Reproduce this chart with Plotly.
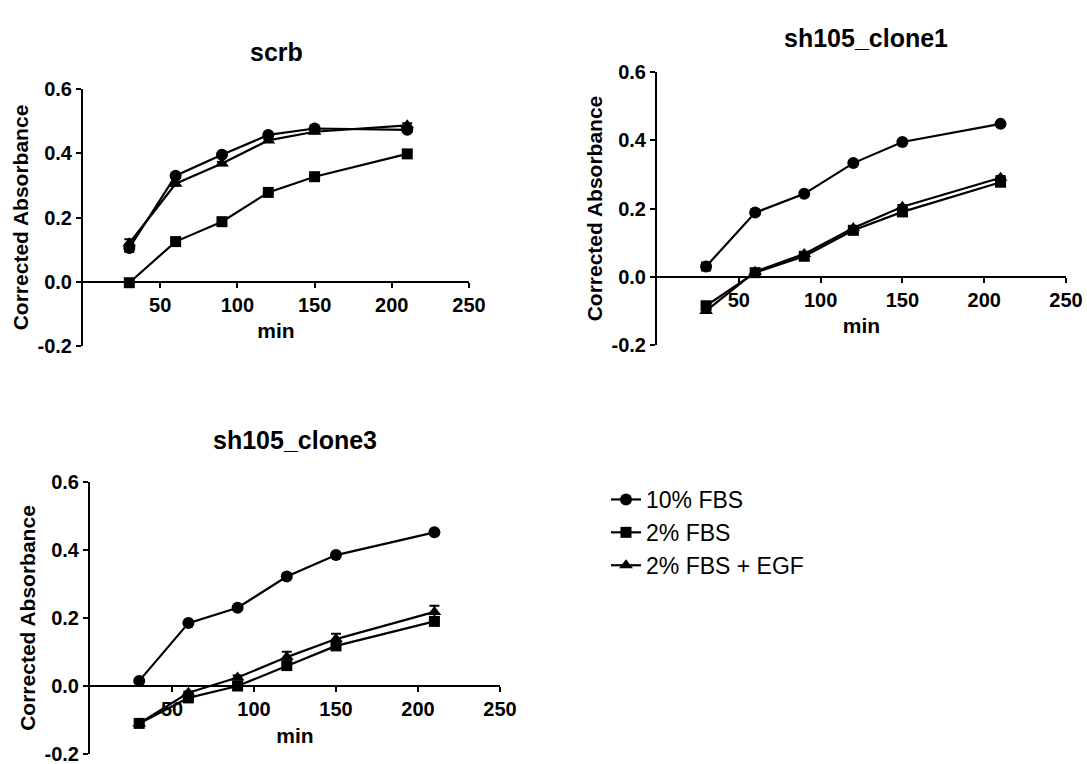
import plotly.graph_objects as go

# ---------------- data ----------------
minutes = [30, 60, 90, 120, 150, 210]
series_names = ["10% FBS", "2% FBS", "2% FBS + EGF"]
panel_titles = ["scrb", "sh105_clone1", "sh105_clone3"]

# scrb
scrb_fbs10 = [0.105, 0.330, 0.395, 0.457, 0.477, 0.473]
scrb_fbs2 = [-0.003, 0.125, 0.187, 0.278, 0.327, 0.398]
scrb_egf = [0.120, 0.305, 0.368, 0.440, 0.467, 0.487]
scrb_fbs10_err = [0.012, 0.006, 0.006, 0.005, 0.005, 0.005]
scrb_fbs2_err = [0.004, 0.004, 0.004, 0.004, 0.004, 0.004]
scrb_egf_err = [0.012, 0.006, 0.005, 0.005, 0.005, 0.006]

# sh105_clone1
c1_fbs10 = [0.030, 0.188, 0.243, 0.333, 0.395, 0.448]
c1_fbs2 = [-0.085, 0.012, 0.060, 0.136, 0.190, 0.277]
c1_egf = [-0.100, 0.015, 0.067, 0.143, 0.205, 0.290]
c1_fbs10_err = [0.012, 0.004, 0.004, 0.004, 0.004, 0.004]
c1_fbs2_err = [0.006, 0.004, 0.004, 0.004, 0.004, 0.004]
c1_egf_err = [0.006, 0.004, 0.004, 0.005, 0.005, 0.005]

# sh105_clone3
c3_fbs10 = [0.015, 0.185, 0.230, 0.322, 0.385, 0.452]
c3_fbs2 = [-0.110, -0.035, 0.000, 0.060, 0.118, 0.190]
c3_egf = [-0.110, -0.020, 0.025, 0.085, 0.138, 0.218]
c3_fbs10_err = [0.004, 0.004, 0.004, 0.004, 0.004, 0.004]
c3_fbs2_err = [0.004, 0.004, 0.004, 0.004, 0.004, 0.004]
c3_egf_err = [0.004, 0.004, 0.006, 0.016, 0.016, 0.018]

x_tickvals = [50, 100, 150, 200, 250]
y_tickvals = [-0.2, 0.0, 0.2, 0.4, 0.6]
y_ticktext = ["-0.2", "0.0", "0.2", "0.4", "0.6"]
x_range = [0, 250]
y_range = [-0.2, 0.6]

x_title = "min"
y_title = "Corrected Absorbance"

# ---------------- layout geometry (pixels) ----------------
W, H = 1087, 764
# (left, right, top, bottom) of each plot area in pixels
panel_px = [
    (83, 469, 89, 346),
    (657, 1066, 72, 345),
    (90, 500, 482, 754),
]
title_px = [(276, 52), (866, 38), (295, 440)]

symbols = ["circle", "square", "triangle-up"]
marker_sizes = [12, 11, 12]

panels = [
    ([scrb_fbs10, scrb_fbs2, scrb_egf], [scrb_fbs10_err, scrb_fbs2_err, scrb_egf_err]),
    ([c1_fbs10, c1_fbs2, c1_egf], [c1_fbs10_err, c1_fbs2_err, c1_egf_err]),
    ([c3_fbs10, c3_fbs2, c3_egf], [c3_fbs10_err, c3_fbs2_err, c3_egf_err]),
]

fig = go.Figure()
font_family = "Liberation Sans, Arial, sans-serif"
tick_font = dict(family=font_family, size=20, color="black", weight="bold")
axis_title_font = dict(family=font_family, size=21, color="black", weight="bold")

annotations = []
for i, ((vals, errs), (l, r, t, b)) in enumerate(zip(panels, panel_px)):
    n = "" if i == 0 else str(i + 1)
    xd = [l / W, r / W]
    yd = [1 - b / H, 1 - t / H]
    zero_pos = yd[0] + (0 - y_range[0]) / (y_range[1] - y_range[0]) * (yd[1] - yd[0])
    for k in range(3):
        fig.add_trace(go.Scatter(
            x=minutes, y=vals[k],
            mode="lines+markers",
            name=series_names[k],
            legendgroup=series_names[k],
            showlegend=(i == 0),
            line=dict(color="black", width=2.2),
            marker=dict(symbol=symbols[k], size=marker_sizes[k], color="black"),
            error_y=dict(type="data", array=errs[k], visible=True,
                         color="black", thickness=2, width=5),
            cliponaxis=False,
            xaxis="x" + n, yaxis="y" + n,
        ))
    fig.layout["xaxis" + n] = dict(
        domain=xd, range=x_range, anchor="free", position=zero_pos,
        tickvals=x_tickvals, ticks="outside", ticklen=5, tickwidth=2,
        tickcolor="black", showline=True, linecolor="black", linewidth=2,
        showgrid=False, zeroline=False, ticklabeloverflow="allow",
        tickfont=tick_font,
        title=dict(text=x_title, standoff=8, font=axis_title_font),
        automargin=False,
    )
    fig.layout["yaxis" + n] = dict(
        domain=yd, range=y_range, anchor="x" + n,
        tickvals=y_tickvals, ticktext=y_ticktext, ticks="outside", ticklen=5,
        tickwidth=2, tickcolor="black", showline=True, linecolor="black",
        linewidth=2, showgrid=False, zeroline=False, ticklabeloverflow="allow",
        tickfont=tick_font,
        title=dict(text=y_title, standoff=3, font=axis_title_font),
        automargin=False,
    )
    annotations.append(dict(
        text=panel_titles[i], x=title_px[i][0] / W, y=1 - title_px[i][1] / H,
        xref="paper", yref="paper", xanchor="center", yanchor="middle",
        showarrow=False,
        font=dict(family=font_family, size=25, color="black", weight="bold"),
    ))

fig.update_layout(
    width=W, height=H,
    margin=dict(l=0, r=0, t=0, b=0),
    paper_bgcolor="white", plot_bgcolor="white",
    annotations=annotations,
    showlegend=True,
    legend=dict(
        x=606 / W, y=1 - 478 / H, xanchor="left", yanchor="top",
        font=dict(family=font_family, size=23, color="black"),
        bgcolor="rgba(0,0,0,0)", tracegroupgap=0, itemwidth=30,
    ),
)

fig.write_html(
    "out.html",
    config={"displayModeBar": False},
    post_script="document.body.style.margin='0px';document.body.style.overflow='hidden';",
)
